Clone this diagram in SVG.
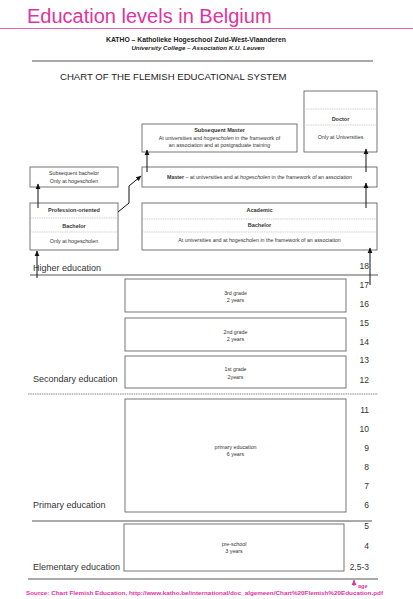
<svg xmlns="http://www.w3.org/2000/svg" width="413" height="599" viewBox="0 0 413 599">
<defs>
<marker id="ah" markerWidth="6" markerHeight="6" refX="5" refY="3" orient="auto" markerUnits="userSpaceOnUse">
<path d="M0,0.6 L5.5,3 L0,5.4 Z" fill="#111"/>
</marker>
<marker id="ahp" markerWidth="6" markerHeight="6" refX="5" refY="3" orient="auto" markerUnits="userSpaceOnUse">
<path d="M0,0.6 L5.5,3 L0,5.4 Z" fill="#e0339f"/>
</marker>
</defs>
<style>
text{font-family:"Liberation Sans",Arial,sans-serif;fill:#333}
.box{fill:#fff;stroke:#666;stroke-width:0.9}
.div{stroke:#bbb;stroke-width:0.7;stroke-dasharray:1.5,0.8}
.lbl{font-size:5.3px;text-anchor:middle}
.hd{font-size:5.5px;font-weight:bold;text-anchor:middle}
.lvl{font-size:9px;fill:#333}
.num{font-size:8.5px;text-anchor:end;fill:#333}
.sep{stroke:#444;stroke-width:0.9}
.con{stroke:#111;stroke-width:1;fill:none;marker-end:url(#ah)}
</style>
<rect width="413" height="599" fill="#fff"/>
<g id="header">
<text x="27" y="23" style="font-size:20px;fill:#e0339f">Education levels in Belgium</text>
<line x1="0" y1="28.5" x2="413" y2="28.5" stroke="#e466b4" stroke-width="1"/>
<text x="196" y="42" style="font-size:6.8px;font-weight:bold;text-anchor:middle;fill:#222">KATHO – Katholieke Hogeschool Zuid-West-Vlaanderen</text>
<text x="198" y="50" style="font-size:6.2px;font-weight:bold;font-style:italic;text-anchor:middle;fill:#222">University College – Association K.U. Leuven</text>
<line x1="32" y1="61" x2="373" y2="61" stroke="#555" stroke-width="1"/>
<text x="60" y="79.5" style="font-size:9.6px;fill:#222">CHART OF THE FLEMISH EDUCATIONAL SYSTEM</text>
</g>
<g id="doctor">
<rect class="box" x="304" y="91" width="73" height="61"/>
<line class="div" x1="304" y1="109" x2="377" y2="109"/>
<line class="div" x1="304" y1="125" x2="377" y2="125"/>
<text class="hd" x="340.5" y="121">Doctor</text>
<text class="lbl" x="340.5" y="139">Only at Universities</text>
</g>
<g id="subsequent-master">
<rect class="box" x="142" y="124" width="155" height="28"/>
<text class="hd" x="219.5" y="132">Subsequent Master</text>
<text class="lbl" x="219.5" y="140">At universities and <tspan font-style="italic">hogescholen</tspan> in the framework of</text>
<text class="lbl" x="219.5" y="147">an association and at postgraduate training</text>
</g>
<g id="subsequent-bachelor">
<rect class="box" x="30" y="167" width="88" height="20"/>
<text class="lbl" x="74" y="175">Subsequent bachelor</text>
<text class="lbl" x="74" y="183">Only at hogescholen</text>
</g>
<g id="master">
<rect class="box" x="142" y="167" width="235" height="20"/>
<text class="lbl" x="259.5" y="179"><tspan font-weight="bold">Master</tspan> – at universities and at <tspan font-style="italic">hogescholen</tspan> in the framework of an association</text>
</g>
<g id="profession-bachelor">
<rect class="box" x="30" y="203" width="88" height="47"/>
<line class="div" x1="30" y1="218" x2="118" y2="218"/>
<line class="div" x1="30" y1="232" x2="118" y2="232"/>
<text class="hd" x="74" y="212">Profession-oriented</text>
<text class="hd" x="74" y="228">Bachelor</text>
<text class="lbl" x="74" y="243">Only at hogescholen</text>
</g>
<g id="academic-bachelor">
<rect class="box" x="142" y="203" width="235" height="47"/>
<line class="div" x1="142" y1="219" x2="377" y2="219"/>
<line class="div" x1="142" y1="232" x2="377" y2="232"/>
<text class="hd" x="259.5" y="212">Academic</text>
<text class="hd" x="259.5" y="227">Bachelor</text>
<text class="lbl" x="259.5" y="242">At universities and at hogescholen in the framework of an association</text>
</g>
<g id="levels">
<text class="lvl" x="33" y="271">Higher education</text>
<line class="sep" x1="30" y1="275" x2="378" y2="275"/>
<text class="lvl" x="33" y="382">Secondary education</text>
<line x1="28" y1="394" x2="378" y2="394" stroke="#777" stroke-width="0.9" stroke-dasharray="1.5,0.8"/>
<text class="lvl" x="33" y="508">Primary education</text>
<line class="sep" x1="32" y1="521" x2="372" y2="521"/>
<text class="lvl" x="33" y="570">Elementary education</text>
<line class="sep" x1="28" y1="579" x2="378" y2="579"/>
</g>
<g id="grade3">
<rect class="box" x="125" y="279" width="221" height="33"/>
<text class="lbl" x="235.5" y="295">3rd grade</text>
<text class="lbl" x="235.5" y="302">2 years</text>
</g>
<g id="grade2">
<rect class="box" x="125" y="318" width="221" height="33"/>
<text class="lbl" x="235.5" y="334">2nd grade</text>
<text class="lbl" x="235.5" y="341">2 years</text>
</g>
<g id="grade1">
<rect class="box" x="125" y="356" width="221" height="32"/>
<text class="lbl" x="235.5" y="371">1st grade</text>
<text class="lbl" x="235.5" y="379">2years</text>
</g>
<g id="primary">
<rect class="box" x="125" y="399" width="221" height="113"/>
<text class="lbl" x="235.5" y="449">primary education</text>
<text class="lbl" x="235.5" y="456">6 years</text>
</g>
<g id="pre-school">
<rect class="box" x="124" y="524" width="220" height="47"/>
<text class="lbl" x="234" y="546">pre-school</text>
<text class="lbl" x="234" y="553">3 years</text>
</g>
<g id="ages">
<text class="num" x="369" y="269">18</text>
<text class="num" x="369" y="288">17</text>
<text class="num" x="369" y="307">16</text>
<text class="num" x="369" y="326">15</text>
<text class="num" x="369" y="345">14</text>
<text class="num" x="369" y="363">13</text>
<text class="num" x="369" y="383">12</text>
<text class="num" x="369" y="413">11</text>
<text class="num" x="369" y="432">10</text>
<text class="num" x="369" y="451">9</text>
<text class="num" x="369" y="470">8</text>
<text class="num" x="369" y="489">7</text>
<text class="num" x="369" y="508">6</text>
<text class="num" x="369" y="529">5</text>
<text class="num" x="369" y="549">4</text>
<text class="num" x="369" y="570">2,5-3</text>
</g>
<g id="connectors">
<line class="con" x1="37" y1="278" x2="37" y2="251"/>
<line class="con" x1="38" y1="208" x2="38" y2="184"/>
<polyline class="con" points="118,212 129,203 129,186 141,176"/>
<line class="con" x1="147" y1="172" x2="147" y2="150"/>
<line class="con" x1="366" y1="172" x2="366" y2="149"/>
<line class="con" x1="366" y1="208" x2="366" y2="183"/>
<line class="con" x1="370" y1="285" x2="370" y2="248"/>
<line x1="354" y1="586" x2="354" y2="580" stroke="#e0339f" stroke-width="1" marker-end="url(#ahp)"/>
</g>
<g id="footer">
<text x="358" y="587.5" style="font-size:5.5px;font-weight:bold;fill:#e0339f">age</text>
<text x="26" y="595" textLength="357" lengthAdjust="spacingAndGlyphs" style="font-size:5.8px;font-weight:bold;fill:#e0339f">Source: Chart Flemish Education, http://www.katho.be/international/doc_algemeen/Chart%20Flemish%20Education.pdf</text>
</g>
</svg>
